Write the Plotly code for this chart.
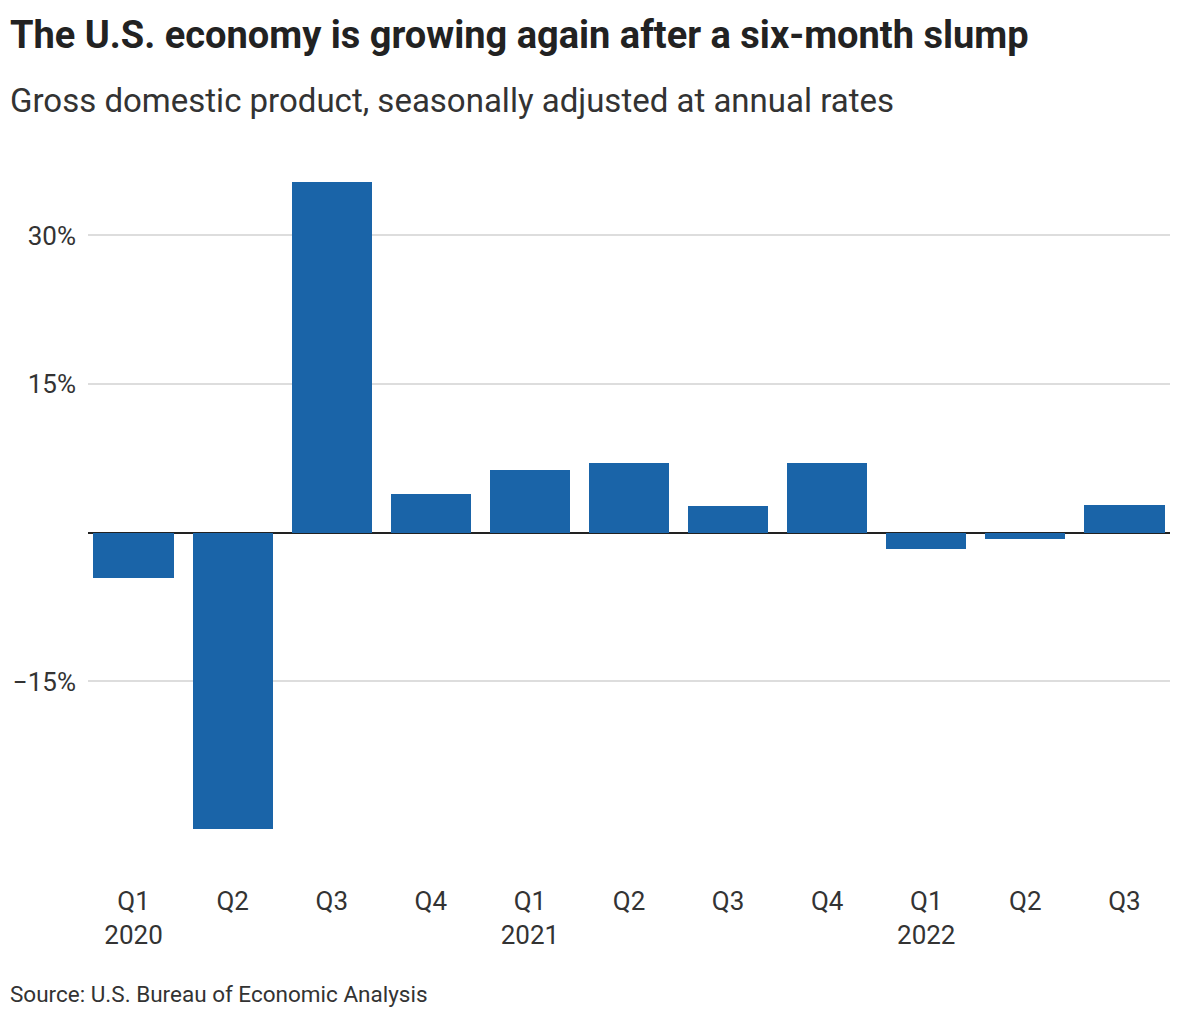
import plotly.graph_objects as go

quarters = ["Q1", "Q2", "Q3", "Q4", "Q1", "Q2", "Q3", "Q4", "Q1", "Q2", "Q3"]
years = ["2020", "", "", "", "2021", "", "", "", "2022", "", ""]
gdp_growth = [-4.6, -29.9, 35.4, 3.9, 6.3, 7.0, 2.7, 7.0, -1.6, -0.6, 2.8]
ytick_vals = [-15, 15, 30]
ytick_text = ["\u221215%", "15%", "30%"]

labels = [q + ("<br>" + y if y else "<br> ") for q, y in zip(quarters, years)]
xpos = list(range(len(quarters)))

# figure is placed 8px in from the page edge by the browser's body margin
W, H = 1172, 1012
L, R, T, B = 80, 10, 163, 180
PW, PH = W - L - R, H - T - B

fig = go.Figure(go.Bar(
    x=xpos, y=gdp_growth, width=0.81,
    marker=dict(color="#1a64a8", line=dict(width=0)),
    hovertemplate="%{y}%<extra></extra>",
))

font_family = "Roboto, 'Liberation Sans', sans-serif"
fig.update_layout(
    width=W, height=H,
    margin=dict(l=L, r=R, t=T, b=B, autoexpand=False),
    paper_bgcolor="white", plot_bgcolor="white",
    showlegend=False, bargap=0,
    font=dict(family=font_family, color="#333333", size=22),
    xaxis=dict(
        range=[-0.46, 10.46], tickvals=xpos, ticktext=labels,
        showgrid=False, zeroline=False, showline=False,
        ticks="", tickfont=dict(size=26, color="#333333"),
        ticklabelstandoff=43, automargin=False,
    ),
    yaxis=dict(
        range=[-31, 36.5], tickvals=ytick_vals, ticktext=ytick_text,
        showgrid=True, gridcolor="#dddddd", gridwidth=2,
        zeroline=True, zerolinecolor="#222222", zerolinewidth=2,
        showline=False, ticks="", tickfont=dict(size=26, color="#333333"),
        ticklabelstandoff=11, automargin=False,
    ),
)


def px_x(x):
    return (x - 8 - L) / PW


def px_y(y):
    return 1 - (y - 8 - T) / PH


fig.add_annotation(text="<b>The U.S. economy is growing again after a six-month slump</b>",
                   xref="paper", yref="paper", x=px_x(8), y=px_y(35),
                   xanchor="left", yanchor="middle", showarrow=False,
                   font=dict(size=38, color="#222222", family=font_family))
fig.add_annotation(text="Gross domestic product, seasonally adjusted at annual rates",
                   xref="paper", yref="paper", x=px_x(8), y=px_y(100),
                   xanchor="left", yanchor="middle", showarrow=False,
                   font=dict(size=33, color="#333333", family=font_family))
fig.add_annotation(text="Source: U.S. Bureau of Economic Analysis",
                   xref="paper", yref="paper", x=px_x(8), y=px_y(994),
                   xanchor="left", yanchor="middle", showarrow=False,
                   font=dict(size=22.5, color="#333333", family=font_family))

fig.write_html("out.html")
